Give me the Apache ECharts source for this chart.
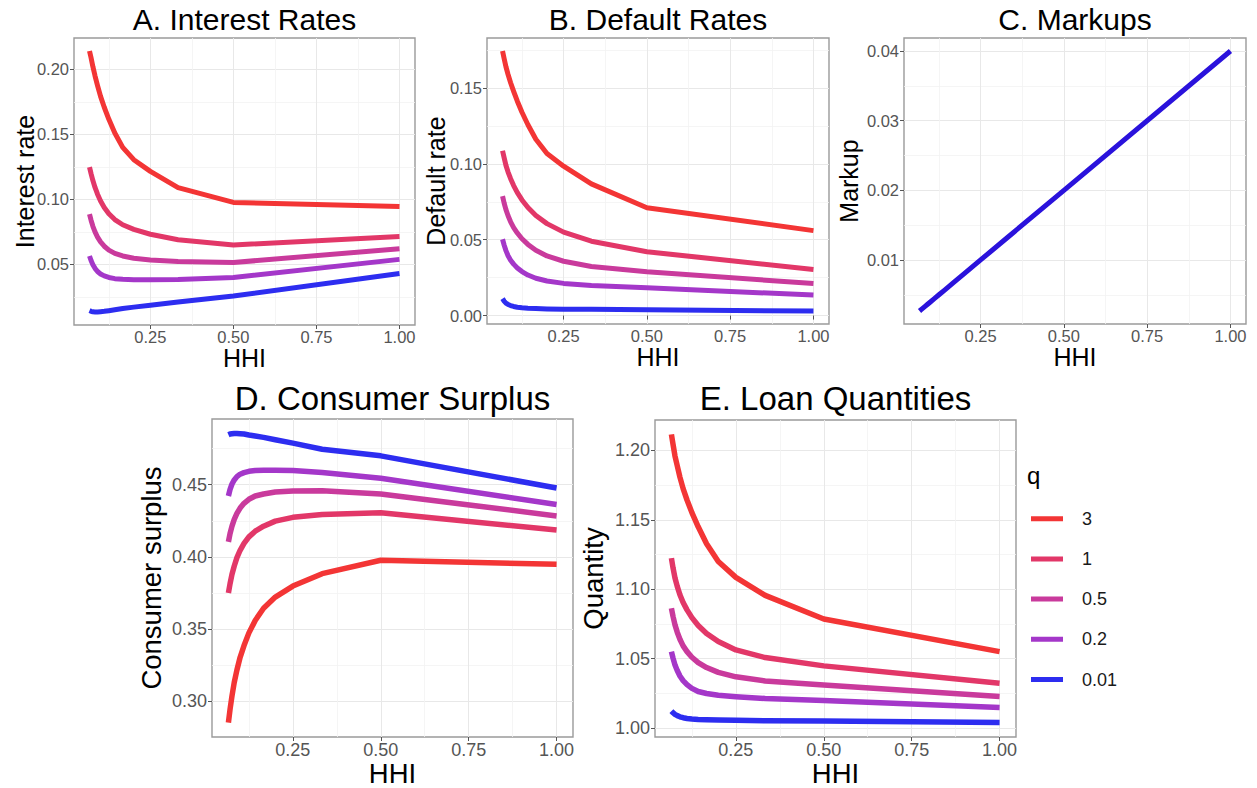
<!DOCTYPE html>
<html>
<head>
<meta charset="utf-8">
<script src="https://cdn.jsdelivr.net/npm/echarts@6/dist/echarts.min.js"></script>
<style>
html, body { margin: 0; padding: 0; background: #ffffff; }
#chart { width: 1257px; height: 788px; }
</style>
</head>
<body>
<div id="chart"></div>
<script>
// ---------------- DATA ----------------
const HHI = [0.0667, 0.0714, 0.0769, 0.0833, 0.0909, 0.1, 0.1111, 0.125, 0.1429, 0.1667, 0.2, 0.25, 0.3333, 0.5, 1.0];
const Q_LEVELS = ['3', '1', '0.5', '0.2', '0.01'];

const X_TICKS = [0.25, 0.50, 0.75, 1.00];
const INTEREST_TICKS = [0.05, 0.10, 0.15, 0.20];
const DEFAULT_TICKS = [0.00, 0.05, 0.10, 0.15];
const MARKUP_TICKS = [0.01, 0.02, 0.03, 0.04];
const SURPLUS_TICKS = [0.30, 0.35, 0.40, 0.45];
const QUANTITY_TICKS = [1.00, 1.05, 1.10, 1.15, 1.20];

// A. Interest rates
const interestQ3   = [0.214, 0.2088, 0.2020, 0.1950, 0.1875, 0.1792, 0.1708, 0.1615, 0.1510, 0.1400, 0.1305, 0.1215, 0.1090, 0.0977, 0.0946];
const interestQ1   = [0.1248, 0.1198, 0.1145, 0.1092, 0.1040, 0.0988, 0.0938, 0.0890, 0.0845, 0.0805, 0.0770, 0.0732, 0.0690, 0.0650, 0.0714];
const interestQ05  = [0.0887, 0.0840, 0.0793, 0.0750, 0.0710, 0.0673, 0.0640, 0.0610, 0.0585, 0.0565, 0.0548, 0.0535, 0.0522, 0.0515, 0.0621];
const interestQ02  = [0.0565, 0.0530, 0.0498, 0.0470, 0.0446, 0.0427, 0.0412, 0.0400, 0.0391, 0.0386, 0.0383, 0.0382, 0.0384, 0.0400, 0.0539];
const interestQ001 = [0.0145, 0.014, 0.0136, 0.0135, 0.0135, 0.0137, 0.014, 0.0145, 0.0152, 0.0162, 0.0172, 0.0187, 0.0212, 0.0258, 0.043];

// B. Default rates
const defaultQ3   = [0.1744, 0.1695, 0.164, 0.1589, 0.1535, 0.1478, 0.1413, 0.134, 0.1258, 0.1162, 0.1068, 0.0985, 0.0868, 0.0711, 0.056];
const defaultQ1   = [0.1086, 0.1041, 0.099, 0.0946, 0.0902, 0.0857, 0.0810, 0.0762, 0.0712, 0.0660, 0.0606, 0.0550, 0.0490, 0.0421, 0.0304];
const defaultQ05  = [0.0787, 0.0742, 0.0698, 0.0658, 0.0618, 0.058, 0.0544, 0.0506, 0.0469, 0.0430, 0.0393, 0.0358, 0.0323, 0.0288, 0.0211];
const defaultQ02  = [0.0503, 0.0465, 0.0428, 0.0394, 0.0365, 0.0339, 0.0314, 0.029, 0.0267, 0.0246, 0.0228, 0.0212, 0.0198, 0.0183, 0.0135];
const defaultQ001 = [0.0111, 0.0095, 0.0082, 0.0073, 0.0066, 0.006, 0.0055, 0.0051, 0.0048, 0.0046, 0.0044, 0.0042, 0.0041, 0.0038, 0.003];

// C. Markups
const markup = [0.00267, 0.00286, 0.00308, 0.00333, 0.00364, 0.004, 0.00444, 0.005, 0.00571, 0.00667, 0.008, 0.01, 0.01333, 0.02, 0.04];

// D. Consumer surplus
const surplusQ3   = [0.2853, 0.2945, 0.3038, 0.3131, 0.3217, 0.3305, 0.3386, 0.3474, 0.356, 0.3645, 0.3722, 0.3798, 0.3884, 0.3977, 0.3949];
const surplusQ1   = [0.375, 0.3815, 0.388, 0.3937, 0.3995, 0.4046, 0.4093, 0.4139, 0.4178, 0.4213, 0.4248, 0.4274, 0.4294, 0.4306, 0.4186];
const surplusQ05  = [0.4104, 0.4162, 0.4213, 0.426, 0.4301, 0.4338, 0.4371, 0.4399, 0.4422, 0.4436, 0.445, 0.4457, 0.4459, 0.4436, 0.4284];
const surplusQ02  = [0.4422, 0.4468, 0.4505, 0.4533, 0.4556, 0.4573, 0.4584, 0.4593, 0.4598, 0.46, 0.46, 0.4598, 0.4584, 0.4545, 0.4363];
const surplusQ001 = [0.4846, 0.4851, 0.4853, 0.4855, 0.4855, 0.4853, 0.4851, 0.4844, 0.4837, 0.4828, 0.4811, 0.4788, 0.4746, 0.470, 0.4477];

// E. Loan quantities
const quantityQ3   = [1.2116, 1.2043, 1.1960, 1.1890, 1.1808, 1.1725, 1.1643, 1.1552, 1.1450, 1.1328, 1.1200, 1.1085, 1.0955, 1.0785, 1.055];
const quantityQ1   = [1.1224, 1.1152, 1.108, 1.102, 1.096, 1.0904, 1.0851, 1.0795, 1.0738, 1.068, 1.0622, 1.0562, 1.0507, 1.0447, 1.0322];
const quantityQ05  = [1.0863, 1.0803, 1.0743, 1.069, 1.0639, 1.0591, 1.0550, 1.0509, 1.0470, 1.0435, 1.0400, 1.0368, 1.0338, 1.0309, 1.0226];
const quantityQ02  = [1.055, 1.0502, 1.0454, 1.0413, 1.0374, 1.0341, 1.0312, 1.0285, 1.0262, 1.0248, 1.0235, 1.0225, 1.0212, 1.0198, 1.0147];
const quantityQ001 = [1.0121, 1.0109, 1.0097, 1.0088, 1.008, 1.0073, 1.0068, 1.0064, 1.0061, 1.0059, 1.0056, 1.0054, 1.0051, 1.0049, 1.0038];

// ---------------- STYLE / LAYOUT ----------------
const FONT = '"Liberation Sans", Arial, Helvetica, sans-serif';
const Q_COLORS = ['#F33535', '#E23768', '#C93A9C', '#A437C9', '#2D2DF0'];
const MARKUP_COLOR = '#2A12DC';

const TOP = { title: 30, axisTitle: 25, tick: 16.5, lw: 5, xLabelMargin: 3.5, xNameGap: 20.5, titleTop: 4 };
const BOT = { title: 33, axisTitle: 27.5, tick: 18, lw: 5.5, xLabelMargin: 3.5, xNameGap: 22.5, titleTop: 381.5 };

const PANELS = [
  { title: 'A. Interest Rates', yName: 'Interest rate', box: [74, 38, 341, 287], yTicks: INTEREST_TICKS, yNameGap: 37, s: TOP,
    lines: [interestQ3, interestQ1, interestQ05, interestQ02, interestQ001] },
  { title: 'B. Default Rates', yName: 'Default rate', box: [487, 38, 342, 286], yTicks: DEFAULT_TICKS, yNameGap: 39, s: TOP,
    lines: [defaultQ3, defaultQ1, defaultQ05, defaultQ02, defaultQ001] },
  { title: 'C. Markups', yName: 'Markup', box: [904, 38, 342, 286], yTicks: MARKUP_TICKS, yNameGap: 43, s: TOP,
    lines: [markup], single: true },
  { title: 'D. Consumer Surplus', yName: 'Consumer surplus', box: [212, 419, 361, 318], yTicks: SURPLUS_TICKS, yNameGap: 47, s: BOT,
    lines: [surplusQ3, surplusQ1, surplusQ05, surplusQ02, surplusQ001] },
  { title: 'E. Loan Quantities', yName: 'Quantity', box: [655, 420, 361, 317], yTicks: QUANTITY_TICKS, yNameGap: 48, s: BOT,
    lines: [quantityQ3, quantityQ1, quantityQ05, quantityQ02, quantityQ001] }
];

function expandRange(arrs) {
  let lo = Infinity, hi = -Infinity;
  arrs.forEach(a => a.forEach(v => { lo = Math.min(lo, v); hi = Math.max(hi, v); }));
  const pad = (hi - lo) * 0.05;
  return [lo - pad, hi + pad];
}
function minorOf(ticks, lo, hi) {
  const step = ticks[1] - ticks[0];
  const out = [];
  for (let i = -1; i < ticks.length; i++) {
    const v = +(ticks[0] + (i + 0.5) * step).toFixed(6);
    if (v > lo && v < hi) out.push(v);
  }
  return out;
}

const X_RANGE = expandRange([HHI]);
const X_MINOR = minorOf(X_TICKS, X_RANGE[0], X_RANGE[1]);

const option = {
  animation: false,
  backgroundColor: '#ffffff',
  title: [], grid: [], xAxis: [], yAxis: [], series: [],
  legend: {
    orient: 'vertical',
    left: 1031, top: 509.7,
    padding: 0,
    itemWidth: 46, itemHeight: 5, itemGap: 22.2,
    icon: 'path://M0,0H32V5H0ZM46,5',
    itemStyle: { borderWidth: 0 },
    selectedMode: false,
    data: Q_LEVELS,
    textStyle: { fontSize: 18, color: '#1a1a1a', fontFamily: FONT }
  },
  graphic: [
    { type: 'text', left: 1027, top: 463, style: { text: 'q', font: '24px ' + FONT, fill: '#000' } }
  ]
};

PANELS.forEach((p, i) => {
  const [left, top, width, height] = p.box;
  const s = p.s;
  const yRange = expandRange(p.lines);
  const yMinor = minorOf(p.yTicks, yRange[0], yRange[1]);

  option.title.push({
    text: p.title, left: left + width / 2, top: s.titleTop, padding: 0,
    textAlign: 'center', textVerticalAlign: 'top',
    textStyle: { fontSize: s.title, fontWeight: 'normal', color: '#000', fontFamily: FONT }
  });

  option.grid.push({
    left, top, width, height, containLabel: false, outerBoundsMode: 'none',
    show: true, backgroundColor: '#ffffff', borderColor: '#9a9a9a', borderWidth: 1.4
  });

  // minor grid axes
  option.xAxis.push({
    gridIndex: i, type: 'value', min: X_RANGE[0], max: X_RANGE[1], position: 'top',
    axisLine: { show: false },
    axisTick: { show: false, customValues: X_MINOR },
    axisLabel: { show: false, customValues: X_MINOR },
    splitLine: { show: true, lineStyle: { color: '#f3f3f3', width: 0.8 } }
  });
  option.yAxis.push({
    gridIndex: i, type: 'value', min: yRange[0], max: yRange[1], position: 'right',
    axisLine: { show: false },
    axisTick: { show: false, customValues: yMinor },
    axisLabel: { show: false, customValues: yMinor },
    splitLine: { show: true, lineStyle: { color: '#f3f3f3', width: 0.8 } }
  });
  // major axes
  option.xAxis.push({
    gridIndex: i, type: 'value', min: X_RANGE[0], max: X_RANGE[1], position: 'bottom',
    axisLine: { show: false },
    axisTick: { show: true, customValues: X_TICKS, length: 4, lineStyle: { color: '#555', width: 1 } },
    axisLabel: { show: true, customValues: X_TICKS, formatter: v => v.toFixed(2), color: '#555',
      fontSize: s.tick, fontFamily: FONT, margin: s.xLabelMargin },
    splitLine: { show: true, lineStyle: { color: '#e8e8e8', width: 1 } },
    name: 'HHI', nameLocation: 'middle', nameGap: s.xNameGap, nameMoveOverlap: false,
    nameTextStyle: { fontSize: s.axisTitle, color: '#000', fontFamily: FONT }
  });
  option.yAxis.push({
    gridIndex: i, type: 'value', min: yRange[0], max: yRange[1], position: 'left',
    axisLine: { show: false },
    axisTick: { show: true, customValues: p.yTicks, length: 4, lineStyle: { color: '#555', width: 1 } },
    axisLabel: { show: true, customValues: p.yTicks, formatter: v => v.toFixed(2), color: '#555',
      fontSize: s.tick, fontFamily: FONT, margin: 5 },
    splitLine: { show: true, lineStyle: { color: '#e8e8e8', width: 1 } },
    name: p.yName, nameLocation: 'middle', nameGap: p.yNameGap, nameMoveOverlap: false,
    nameTextStyle: { fontSize: s.axisTitle, color: '#000', fontFamily: FONT }
  });

  p.lines.forEach((vals, k) => {
    const color = p.single ? MARKUP_COLOR : Q_COLORS[k];
    option.series.push({
      type: 'line',
      name: p.single ? 'Markup' : Q_LEVELS[k],
      xAxisIndex: 2 * i + 1, yAxisIndex: 2 * i + 1,
      data: HHI.map((x, j) => [x, vals[j]]),
      symbol: 'none', showSymbol: false, smooth: false, silent: true,
      color: color,
      itemStyle: { color: color },
      lineStyle: { color: color, width: s.lw, join: 'round', cap: 'butt' },
      z: 3
    });
  });
});

const chart = echarts.init(document.getElementById('chart'), null, { renderer: 'svg' });
chart.setOption(option);
</script>
</body>
</html>
